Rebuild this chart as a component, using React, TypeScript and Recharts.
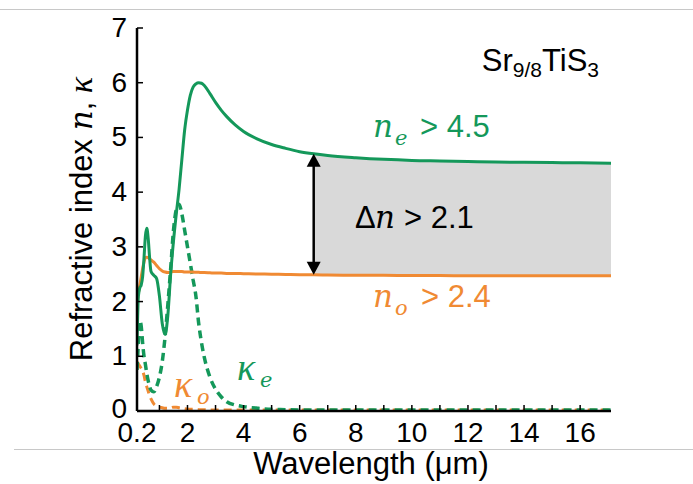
import React from 'react';
import {
  ComposedChart,
  Line,
  Area,
  XAxis,
  YAxis,
  ReferenceLine,
} from 'recharts';

// ---- data ----
const wavelength = [
  0.2, 0.25, 0.3, 0.35, 0.4, 0.45, 0.5, 0.55, 0.6, 0.65, 0.7, 0.8, 0.9, 1.0, 1.1, 1.2, 1.3, 1.4, 1.5, 1.6,
  1.7, 1.8, 1.9, 2.0, 2.1, 2.2, 2.3, 2.4, 2.5, 2.6, 2.8, 3.0, 3.2, 3.4, 3.7, 4.0, 4.5, 5.0, 5.5, 6.0,
  6.5, 7, 8, 9, 10, 11, 12, 13, 14, 15, 16, 17.1,
];
const nE = [
  1.2, 2.1, 2.25, 2.3, 2.45, 2.8, 3.2, 3.34, 3.15, 2.8, 2.55, 2.48, 2.42, 2.1, 1.6, 1.4, 1.75, 2.5, 3.1, 3.6,
  4.05, 4.6, 5.14, 5.5, 5.77, 5.92, 5.98, 6.0, 5.99, 5.95, 5.8, 5.64, 5.5, 5.38, 5.23, 5.11, 4.97, 4.87, 4.8, 4.74,
  4.7, 4.67, 4.63, 4.6, 4.58, 4.57, 4.56, 4.55, 4.545, 4.54, 4.535, 4.53,
];
const nO = [
  1.95, 2.15, 2.3, 2.45, 2.6, 2.72, 2.8, 2.81, 2.8, 2.78, 2.76, 2.72, 2.66, 2.6, 2.56, 2.54, 2.53, 2.54, 2.55, 2.55,
  2.55, 2.55, 2.54, 2.54, 2.54, 2.54, 2.535, 2.535, 2.53, 2.53, 2.525, 2.52, 2.52, 2.515, 2.515, 2.51, 2.505, 2.5, 2.495, 2.49,
  2.49, 2.485, 2.48, 2.48, 2.475, 2.475, 2.47, 2.47, 2.47, 2.47, 2.47, 2.47,
];
const kE = [
  0.75, 1.25, 1.65, 1.55, 1.25, 1.0, 0.85, 0.68, 0.55, 0.45, 0.38, 0.35, 0.45, 0.62, 0.9, 1.35, 1.95, 2.6, 3.3, 3.68,
  3.78, 3.6, 3.3, 3.0, 2.7, 2.4, 2.1, 1.6, 1.25, 0.98, 0.62, 0.4, 0.26, 0.17, 0.11, 0.08, 0.05, 0.03, 0.025, 0.02,
  0.02, 0.02, 0.02, 0.02, 0.02, 0.02, 0.02, 0.02, 0.02, 0.02, 0.02, 0.02,
];
const kO = [
  0.9, 0.86, 0.82, 0.78, 0.74, 0.65, 0.53, 0.44, 0.36, 0.28, 0.22, 0.13, 0.09, 0.07, 0.06, 0.05, 0.05, 0.06, 0.07, 0.07,
  0.06, 0.05, 0.04, 0.035, 0.03, 0.03, 0.03, 0.025, 0.025, 0.025, 0.02, 0.02, 0.02, 0.02, 0.02, 0.02, 0.02, 0.02, 0.02, 0.02,
  0.02, 0.02, 0.02, 0.02, 0.02, 0.02, 0.02, 0.02, 0.02, 0.02, 0.02, 0.02,
];
const xTicks = [0.2, 1, 2, 3, 4, 5, 6, 7, 8, 9, 10, 11, 12, 13, 14, 15, 16];
const xTickLabels = [0.2, 2, 4, 6, 8, 10, 12, 14, 16];
const yTicks = [0, 1, 2, 3, 4, 5, 6, 7];
const gapStart = 6.5;

const GREEN = '#14985a';
const ORANGE = '#f08a33';
const SANS = '"Liberation Sans", Arial, sans-serif';
const MATH = '"DejaVu Serif", "Liberation Serif", serif';
const GREEK = '"Liberation Serif", "Times New Roman", serif';

const toSeries = (vals: number[]) => wavelength.map((x, i) => ({ x, y: vals[i] }));
const neData = toSeries(nE);
const noData = toSeries(nO);
const keData = toSeries(kE);
const koData = toSeries(kO);
const gapData = wavelength
  .map((x, i) => ({ x, range: [nO[i], nE[i]] }))
  .filter((d) => d.x >= gapStart);
const gapIdx = wavelength.indexOf(gapStart);

const XTick = (props: any) => {
  const { x, y, payload } = props;
  const v = payload.value;
  const lab = xTickLabels.includes(v) ? String(v) : '';
  return (
    <g>
      <line x1={x} x2={x} y1={y} y2={y - 6} stroke="#000" strokeWidth={1.5} />
      {lab && (
        <text x={x} y={y + 31} textAnchor="middle" fontSize={28} fontFamily={SANS} fill="#000">
          {lab}
        </text>
      )}
    </g>
  );
};

const YTick = (props: any) => {
  const { x, y, payload } = props;
  return (
    <g>
      <line x1={x} x2={x + 6} y1={y} y2={y} stroke="#000" strokeWidth={1.5} />
      <text x={x - 10} y={y + (payload.value === 0 ? 7 : 9)} textAnchor="end" fontSize={28} fontFamily={SANS} fill="#000">
        {payload.value}
      </text>
    </g>
  );
};

const ArrowShape = (p: any) => {
  const { x1, y1, x2, y2 } = p;
  const top = Math.min(y1, y2);
  const bot = Math.max(y1, y2);
  const x = (x1 + x2) / 2;
  return (
    <g>
      <line x1={x} x2={x} y1={top + 10} y2={bot - 10} stroke="#000" strokeWidth={2.5} />
      <polygon points={`${x},${top} ${x - 7},${top + 13} ${x + 7},${top + 13}`} fill="#000" />
      <polygon points={`${x},${bot} ${x - 7},${bot - 13} ${x + 7},${bot - 13}`} fill="#000" />
    </g>
  );
};

export default function App() {
  return (
    <div style={{ position: 'absolute', left: 0, top: 0, width: 693, height: 484, background: '#fff' }}>
      <div style={{ position: 'absolute', left: 0, top: 9, width: 693, height: 1, background: '#c8c8c8' }} />
      <div style={{ position: 'absolute', left: 14, top: 449, width: 679, height: 1, background: '#c8c8c8' }} />
      <div style={{ position: 'absolute', left: 0, top: 0 }}>
        <ComposedChart width={693} height={484} margin={{ top: 28, right: 82, left: 0, bottom: 43 }}>
          <XAxis
            dataKey="x"
            type="number"
            domain={[0.2, 17.1]}
            allowDataOverflow
            ticks={xTicks}
            interval={0}
            height={30}
            tickSize={0}
            tickMargin={0}
            tickLine={false}
            tick={<XTick />}
            axisLine={{ stroke: '#000', strokeWidth: 2.5 }}
          />
          <XAxis
            xAxisId="top"
            orientation="top"
            dataKey="x"
            type="number"
            domain={[0.2, 17.1]}
            allowDataOverflow
            height={0}
            tick={false}
            tickLine={false}
            axisLine={{ stroke: '#222', strokeWidth: 2 }}
          />
          <YAxis
            type="number"
            domain={[0, 7]}
            ticks={yTicks}
            interval={0}
            width={137}
            tickSize={0}
            tickMargin={0}
            tickLine={false}
            tick={<YTick />}
            axisLine={{ stroke: '#000', strokeWidth: 2.5 }}
          />
          <YAxis
            yAxisId="right"
            orientation="right"
            type="number"
            domain={[0, 7]}
            width={0}
            tick={false}
            tickLine={false}
            axisLine={{ stroke: '#444', strokeWidth: 2 }}
          />
          <Area
            data={gapData}
            dataKey="range"
            type="monotone"
            fill="#d9d9d9"
            fillOpacity={1}
            stroke="none"
            isAnimationActive={false}
          />
          <Line data={koData} dataKey="y" type="monotone" stroke={ORANGE} strokeWidth={3} strokeDasharray="8 5" dot={false} isAnimationActive={false} />
          <Line data={keData} dataKey="y" type="monotone" stroke={GREEN} strokeWidth={3.5} strokeDasharray="8 5" dot={false} isAnimationActive={false} />
          <Line data={noData} dataKey="y" type="monotone" stroke={ORANGE} strokeWidth={3} dot={false} isAnimationActive={false} />
          <Line data={neData} dataKey="y" type="monotone" stroke={GREEN} strokeWidth={3} dot={false} isAnimationActive={false} />
          <ReferenceLine
            segment={[
              { x: gapStart, y: nO[gapIdx] },
              { x: gapStart, y: nE[gapIdx] },
            ]}
            stroke="#000"
            shape={ArrowShape}
          />
        </ComposedChart>
      </div>
      <svg
        width={693}
        height={484}
        style={{ position: 'absolute', left: 0, top: 0, pointerEvents: 'none' }}
      >
        {/* compound name */}
        <text x={599} y={71} textAnchor="end" fontFamily={SANS} fontSize={31} fill="#000">
          Sr
          <tspan fontSize={21} dy={6}>9/8</tspan>
          <tspan dy={-6}>TiS</tspan>
          <tspan fontSize={21} dy={6}>3</tspan>
        </text>
        {/* n_e > 4.5 */}
        <text x={373} y={137} fontFamily={MATH} fontStyle="italic" fontSize={31} fill={GREEN}>n</text>
        <text x={395} y={145} fontFamily={MATH} fontStyle="italic" fontSize={21} fill={GREEN}>e</text>
        <text x={420} y={137} fontFamily={SANS} fontSize={31} fill={GREEN}>{'> 4.5'}</text>
        {/* Δn > 2.1 */}
        <text x={355} y={228} fontFamily={SANS} fontSize={31} fill="#000">Δ</text>
        <text x={375} y={228} fontFamily={MATH} fontStyle="italic" fontSize={31} fill="#000">n</text>
        <text x={404} y={228} fontFamily={SANS} fontSize={31} fill="#000">{'> 2.1'}</text>
        {/* n_o > 2.4 */}
        <text x={373} y={307} fontFamily={MATH} fontStyle="italic" fontSize={31} fill={ORANGE}>n</text>
        <text x={395} y={315} fontFamily={MATH} fontStyle="italic" fontSize={21} fill={ORANGE}>o</text>
        <text x={421} y={307} fontFamily={SANS} fontSize={31} fill={ORANGE}>{'> 2.4'}</text>
        {/* kappa labels */}
        <text x={174} y={397} fontFamily={GREEK} fontStyle="italic" fontSize={38} fill={ORANGE}>κ</text>
        <text x={197} y={404} fontFamily={MATH} fontStyle="italic" fontSize={21} fill={ORANGE}>o</text>
        <text x={237} y={380} fontFamily={GREEK} fontStyle="italic" fontSize={38} fill={GREEN}>κ</text>
        <text x={260} y={387} fontFamily={MATH} fontStyle="italic" fontSize={21} fill={GREEN}>e</text>
        {/* axis titles */}
        <text
          x={92}
          y={219}
          transform="rotate(-90, 92, 219)"
          textAnchor="middle"
          fontFamily={SANS}
          fontSize={31}
          fill="#000"
        >
          {'Refractive index '}
          <tspan fontFamily={MATH} fontStyle="italic">n</tspan>
          {', '}
          <tspan fontFamily={GREEK} fontStyle="italic" fontSize={34}>κ</tspan>
        </text>
        <text x={371} y={474} textAnchor="middle" fontFamily={SANS} fontSize={31} fill="#000">
          Wavelength (μm)
        </text>
      </svg>
    </div>
  );
}
